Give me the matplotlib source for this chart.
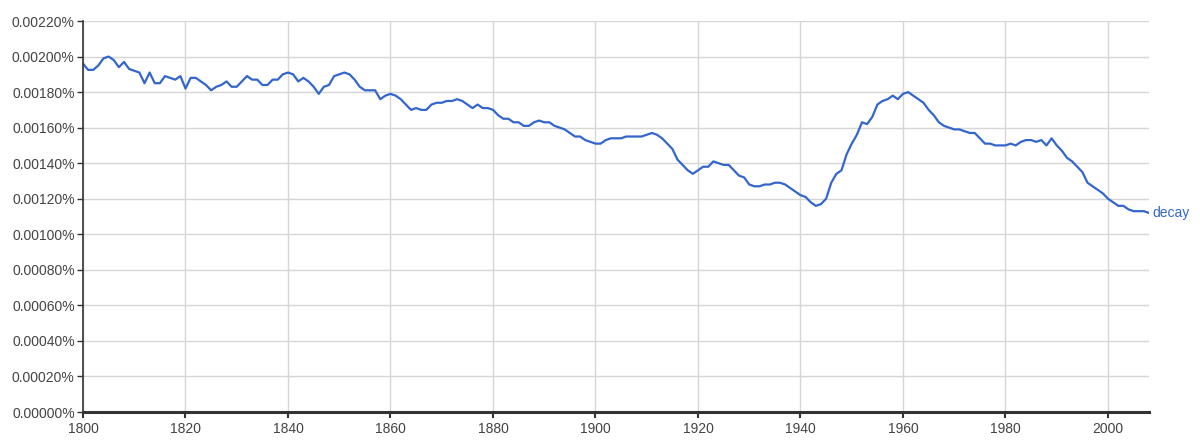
import matplotlib
matplotlib.use("Agg")
import matplotlib.pyplot as plt
from matplotlib.ticker import FuncFormatter, MultipleLocator

# yearly frequency of "decay", in percent, 1800-2008
years = list(range(1800, 2009))
decay = [
    0.00196, 0.001925, 0.001925, 0.00195, 0.00199, 0.00200, 0.00198, 0.00194, 0.00197, 0.00193,
    0.00192, 0.00191, 0.00185, 0.00191, 0.00185, 0.00185, 0.00189, 0.00188, 0.00187, 0.00189,
    0.00182, 0.00188, 0.00188, 0.00186, 0.00184, 0.00181, 0.00183, 0.00184, 0.00186, 0.00183,
    0.00183, 0.00186, 0.00189, 0.00187, 0.00187, 0.00184, 0.00184, 0.00187, 0.00187, 0.00190,
    0.00191, 0.00190, 0.00186, 0.00188, 0.00186, 0.00183, 0.00179, 0.00183, 0.00184, 0.00189,
    0.00190, 0.00191, 0.00190, 0.00187, 0.00183, 0.00181, 0.00181, 0.00181, 0.00176, 0.00178,
    0.00179, 0.00178, 0.00176, 0.00173, 0.00170, 0.00171, 0.00170, 0.00170, 0.00173, 0.00174,
    0.00174, 0.00175, 0.00175, 0.00176, 0.00175, 0.00173, 0.00171, 0.00173, 0.00171, 0.00171,
    0.00170, 0.00167, 0.00165, 0.00165, 0.00163, 0.00163, 0.00161, 0.00161, 0.00163, 0.00164,
    0.00163, 0.00163, 0.00161, 0.00160, 0.00159, 0.00157, 0.00155, 0.00155, 0.00153, 0.00152,
    0.00151, 0.00151, 0.00153, 0.00154, 0.00154, 0.00154, 0.00155, 0.00155, 0.00155, 0.00155,
    0.00156, 0.00157, 0.00156, 0.00154, 0.00151, 0.00148, 0.00142, 0.00139, 0.00136, 0.00134,
    0.00136, 0.00138, 0.00138, 0.00141, 0.00140, 0.00139, 0.00139, 0.00136, 0.00133, 0.00132,
    0.00128, 0.00127, 0.00127, 0.00128, 0.00128, 0.00129, 0.00129, 0.00128, 0.00126, 0.00124,
    0.00122, 0.00121, 0.00118, 0.00116, 0.00117, 0.00120, 0.00129, 0.00134, 0.00136, 0.00145,
    0.00151, 0.00156, 0.00163, 0.00162, 0.00166, 0.00173, 0.00175, 0.00176, 0.00178, 0.00176,
    0.00179, 0.00180, 0.00178, 0.00176, 0.00174, 0.00170, 0.00167, 0.00163, 0.00161, 0.00160,
    0.00159, 0.00159, 0.00158, 0.00157, 0.00157, 0.00154, 0.00151, 0.00151, 0.00150, 0.00150,
    0.00150, 0.00151, 0.00150, 0.00152, 0.00153, 0.00153, 0.00152, 0.00153, 0.00150, 0.00154,
    0.00150, 0.00147, 0.00143, 0.00141, 0.00138, 0.00135, 0.00129, 0.00127, 0.00125, 0.00123,
    0.00120, 0.00118, 0.00116, 0.00116, 0.00114, 0.00113, 0.00113, 0.00113, 0.00112,
]
series_label = "decay"

plt.rcParams['font.family'] = ['Liberation Sans', 'DejaVu Sans']

fig = plt.figure(figsize=(12, 4.43), dpi=100)
ax = fig.add_axes([83 / 1200, 1 - 412 / 443, (1149 - 83) / 1200, (412 - 21) / 443])

line_color = "#3366cc"
ax.plot(years, decay, color=line_color, linewidth=1.6, solid_joinstyle="round")
ax.text(years[-1] + 0.6, decay[-1], series_label, color=line_color, fontsize=10,
        va="center", ha="left")

ax.set_xlim(1800, 2008)
ax.set_ylim(0, 0.0022)
ax.xaxis.set_major_locator(MultipleLocator(20))
ax.yaxis.set_major_locator(MultipleLocator(0.0002))
ax.yaxis.set_major_formatter(FuncFormatter(lambda v, _: f"{v:.5f}%"))

ax.grid(True, color="#d6d6d6", linewidth=1)
ax.set_axisbelow(True)
for side in ("top", "right"):
    ax.spines[side].set_visible(False)
ax.spines["left"].set_color("#333333")
ax.spines["left"].set_linewidth(1.2)
ax.spines["bottom"].set_color("#333333")
ax.spines["bottom"].set_linewidth(2.2)

ax.tick_params(axis="y", length=4, width=1, color="#333333", labelcolor="#444444",
               labelsize=10, pad=2)
ax.tick_params(axis="x", length=4, width=1.5, color="#333333", labelcolor="#444444",
               labelsize=10, pad=3)

fig.savefig("out.png", dpi=100)
